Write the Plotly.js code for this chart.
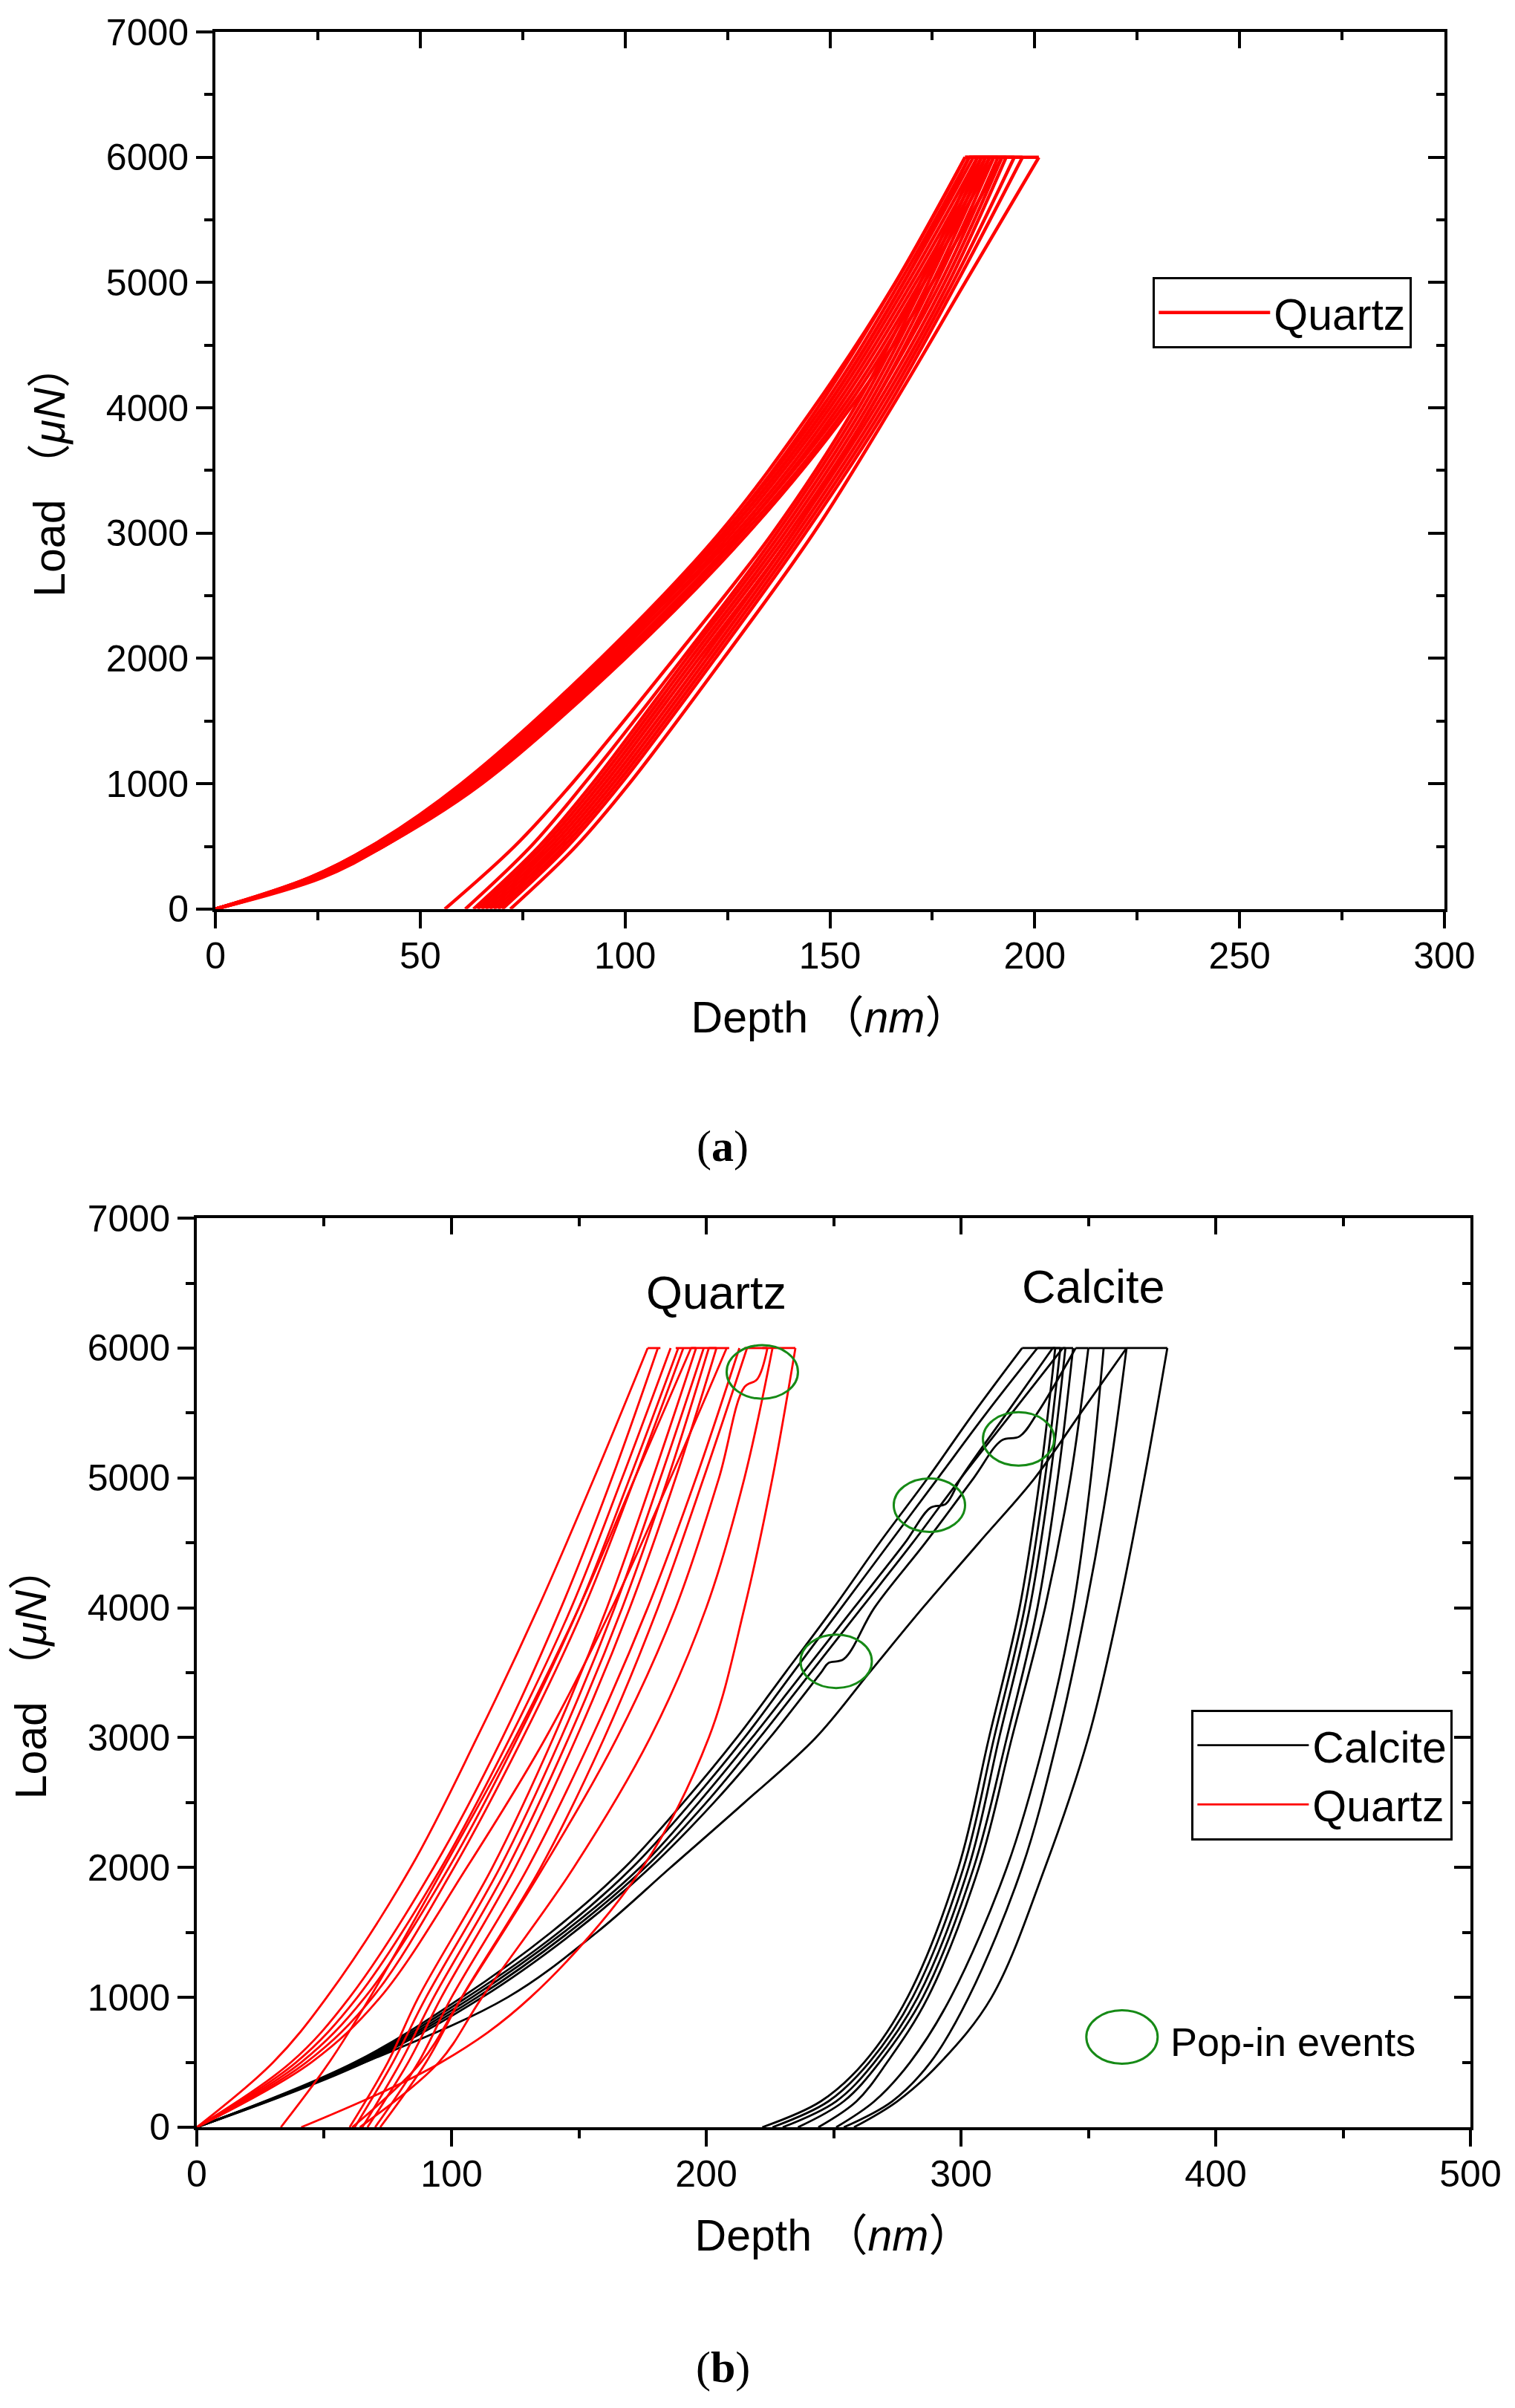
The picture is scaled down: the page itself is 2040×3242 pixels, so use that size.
<!DOCTYPE html>
<html>
<head>
<meta charset="utf-8">
<script src="https://cdn.plot.ly/plotly-3.0.1.min.js"></script>
<style>
  html, body { margin: 0; padding: 0; background: #fff; }
  #chart { width: 2040px; height: 3242px; }
</style>
</head>
<body>
<div id="chart"></div>
<script>
// ==========================================================
// DATA  (depth in nm at fixed load levels, load in uN)
// ==========================================================

// ---- (a) quartz, loading branch ----
const quartzUpLoadA = [0, 250, 500, 1000, 2000, 3000, 4000, 5000, 6000];
const quartzUpDepthA = [
    [0, 23, 38, 60, 94, 123, 146, 166, 183],
    [0, 23, 38, 61, 95, 124, 147, 166, 183],
    [0, 24, 39, 61, 95, 124, 148, 167, 184],
    [0, 24, 39, 62, 96, 125, 149, 168, 184],
    [0, 24, 39, 62, 96, 125, 149, 168, 185],
    [0, 24, 40, 62, 97, 126, 150, 169, 186],
    [0, 25, 40, 63, 97, 127, 151, 170, 187],
    [0, 25, 40, 63, 98, 128, 152, 171, 188],
    [0, 25, 41, 64, 99, 128, 153, 172, 189],
    [0, 25, 41, 64, 99, 129, 154, 173, 190],
    [0, 26, 41, 65, 100, 130, 155, 175, 192]
];

// ---- (a) quartz, unloading branch ----
const quartzDownLoadA = [6000, 5000, 4000, 3000, 2000, 1000, 500, 0];
const quartzDownDepthA = [
    [186, 172, 156, 136, 112, 87, 73, 56],
    [187, 173, 157, 137, 114, 90, 77, 61],
    [188, 174, 158, 138, 115, 92, 79, 63],
    [189, 175, 159, 139, 116, 93, 80, 64],
    [190, 176, 160, 140, 117, 94, 81, 65],
    [191, 177, 160, 141, 118, 95, 82, 66],
    [192, 178, 161, 141, 119, 96, 83, 67],
    [193, 179, 162, 142, 120, 97, 84, 68],
    [195, 180, 163, 143, 121, 98, 85, 69],
    [197, 181, 164, 144, 122, 99, 86, 70],
    [201, 183, 165, 146, 124, 101, 88, 72]
];

// ---- (b) quartz curves ----
const quartzLoadB = [0, 500, 1000, 2000, 3000, 4000, 5000, 6000];
const quartzDepthB = [
    [0, 30, 51, 84, 110, 134, 156, 177],
    [0, 37, 60, 93, 120, 143, 163, 181],
    [0, 39, 63, 96, 123, 147, 167, 186],
    [0, 41, 66, 99, 126, 150, 170, 189],
    [0, 43, 69, 101, 128, 152, 172, 191],
    [0, 45, 72, 106, 137, 163, 186, 208],
    [33, 52, 68, 97, 125, 150, 172, 194],
    [60, 75, 87, 116, 140, 161, 179, 196],
    [62, 77, 90, 119, 143, 164, 182, 199],
    [65, 80, 93, 122, 146, 167, 185, 201],
    [67, 83, 96, 125, 149, 170, 188, 204],
    [70, 87, 100, 130, 155, 177, 196, 213],
    [72, 90, 104, 135, 160, 181, 199, 216],
    [64, 95, 112, 148, 178, 200, 215, 226],
    [41, 96, 131, 175, 201, 215, 226, 235]
];
// quartz curve with the pop-in near the peak
const quartzPopLoadB = [0, 500, 1000, 2000, 3000, 4000, 5000, 5700, 5760, 6000];
const quartzPopDepthB = [61, 88, 104, 136, 165, 188, 205, 215, 220, 224];
const quartzHoldStartB = [177, 188, 194, 201, 215, 222];
const quartzHoldEndB = [182, 196, 204, 209, 224, 235];

// ---- (b) calcite loading ----
const calciteUpLoad = [0, 500, 1000, 1500, 2000, 2500, 3000, 3500, 4000, 4500, 5000, 5500, 6000];
const calciteUpDepth = [
    [0, 62, 104, 139, 168, 191, 212, 231, 250, 268, 287, 305, 324],
    [0, 63, 106, 142, 171, 194, 215, 234, 253, 272, 291, 310, 330],
    [0, 65, 110, 146, 176, 200, 221, 241, 261, 281, 300, 320, 340],
    [0, 66, 122, 157, 186, 215, 243, 264, 285, 307, 329, 347, 365]
];
// calcite loading curves carrying pop-in events
const calcitePopLoadA = [0, 500, 1000, 1500, 2000, 2500, 3000, 3500, 4000, 4500, 4770, 4800, 5000, 5500, 6000];
const calcitePopDepthA = [0, 64, 108, 144, 174, 197, 218, 238, 258, 278, 288, 294, 300, 318, 336];
const calcitePopLoadB = [0, 500, 1000, 1500, 2000, 2500, 3000, 3500, 3575, 3605, 4000, 4500, 5000, 5290, 5320, 5500, 6000];
const calcitePopDepthB = [0, 66, 112, 148, 178, 203, 225, 245, 248, 254, 266, 286, 305, 316, 323, 330, 345];

// ---- (b) calcite unloading ----
const calciteDownLoad = [6000, 5000, 4000, 3000, 2000, 1000, 500, 200, 0];
const calciteDownDepth = [
    [337, 331, 323, 311, 299, 279, 262, 245, 222],
    [339, 333, 325, 313, 301, 281, 264, 248, 226],
    [341, 335, 327, 315, 303, 283, 266, 251, 230],
    [344, 338, 330, 318, 305, 285, 268, 254, 236],
    [350, 343, 333, 320, 307, 287, 271, 259, 244],
    [356, 351, 344, 333, 318, 296, 280, 266, 251],
    [365, 358, 349, 338, 324, 303, 288, 273, 254],
    [381, 372, 362, 350, 333, 312, 292, 275, 258]
];
const calciteHoldStart = [324, 330, 336, 340, 345, 350, 356, 365];
const calciteHoldEnd = [337, 339, 341, 344, 350, 356, 365, 381];

// ---- pop-in markers (b) ----
const popInDepth = [222, 251, 287.6, 322.6];
const popInLoad = [5816, 3588, 4790, 5300];
const popKeyDepth = 363.2;
const popKeyLoad = 695;

const peakLoad = 6000;


// ==========================================================
// STYLE
// ==========================================================

const RED = "#ff0000";
const BLACK = "#000000";
const GREEN = "#168a16";
const SANS = "Liberation Sans, Arial, Noto Sans CJK SC, sans-serif";
const SERIF = "Liberation Serif, Times New Roman, serif";


function curve(xs, ys, color, width, xa, ya, legendId) {

    return {
        type: "scatter",
        mode: "lines",
        x: xs,
        y: ys,
        xaxis: xa,
        yaxis: ya,
        line: { color: color, width: width, shape: "spline", smoothing: 1 },
        showlegend: false,
        legend: legendId,
        hoverinfo: "skip"
    };

}


function holdTrace(starts, ends, color, width, xa, ya, legendId) {

    let xs = [];
    let ys = [];

    starts.forEach((s, i) => {
        xs.push(s, ends[i], null);
        ys.push(peakLoad, peakLoad, null);
    });

    return {
        type: "scatter",
        mode: "lines",
        x: xs,
        y: ys,
        xaxis: xa,
        yaxis: ya,
        connectgaps: false,
        line: { color: color, width: width },
        showlegend: false,
        legend: legendId,
        hoverinfo: "skip"
    };

}


// ==========================================================
// TRACES
// ==========================================================

let traces = [];

const wA = 4.5;
const wB = 2.8;

// (a)
quartzUpDepthA.forEach((d, i) => {
    let t = curve(d, quartzUpLoadA, RED, wA, "x", "y", "legend");
    if (i === 0) {
        t.showlegend = true;
        t.name = "Quartz";
    }
    traces.push(t);
});

quartzDownDepthA.forEach(d => {
    traces.push(curve(d, quartzDownLoadA, RED, wA, "x", "y", "legend"));
});

traces.push(holdTrace(
    quartzUpDepthA.map(d => d[d.length - 1]),
    quartzDownDepthA.map(d => d[0]),
    RED, wA, "x", "y", "legend"
));

// (b) calcite (drawn first, quartz sits on top)
calciteUpDepth.forEach((d, i) => {
    let t = curve(d, calciteUpLoad, BLACK, wB, "x2", "y2", "legend2");
    if (i === 0) {
        t.showlegend = true;
        t.name = "Calcite";
        t.legendrank = 1;
    }
    traces.push(t);
});
traces.push(curve(calcitePopDepthA, calcitePopLoadA, BLACK, wB, "x2", "y2", "legend2"));
traces.push(curve(calcitePopDepthB, calcitePopLoadB, BLACK, wB, "x2", "y2", "legend2"));

calciteDownDepth.forEach(d => {
    traces.push(curve(d, calciteDownLoad, BLACK, wB, "x2", "y2", "legend2"));
});
traces.push(holdTrace(calciteHoldStart, calciteHoldEnd, BLACK, wB, "x2", "y2", "legend2"));

// (b) quartz
quartzDepthB.forEach((d, i) => {
    let t = curve(d, quartzLoadB, RED, wB, "x2", "y2", "legend2");
    if (i === 0) {
        t.showlegend = true;
        t.name = "Quartz";
        t.legendrank = 2;
    }
    traces.push(t);
});
traces.push(curve(quartzPopDepthB, quartzPopLoadB, RED, wB, "x2", "y2", "legend2"));
traces.push(holdTrace(quartzHoldStartB, quartzHoldEndB, RED, wB, "x2", "y2", "legend2"));

// empty traces so the mirrored frame axes get drawn
traces.push({ type: "scatter", x: [], y: [], xaxis: "x3", yaxis: "y3", showlegend: false });
traces.push({ type: "scatter", x: [], y: [], xaxis: "x4", yaxis: "y4", showlegend: false });


// ==========================================================
// AXES
// ==========================================================

const tickFont = { family: SANS, size: 50, color: "#000" };
const titleFont = { family: SANS, size: 59, color: "#000" };


function frameAxis(range, dtick, minorDtick, domain, anchor, labelGap) {

    return {
        range: range,
        domain: domain,
        anchor: anchor,
        tickmode: "linear",
        tick0: 0,
        dtick: dtick,
        ticks: "outside",
        ticklen: 22,
        tickwidth: 4,
        tickcolor: "#000",
        minor: { dtick: minorDtick, ticks: "outside", ticklen: 11, tickwidth: 4, tickcolor: "#000" },
        showline: true,
        linewidth: 4,
        linecolor: "#000",
        showgrid: false,
        zeroline: false,
        tickfont: tickFont,
        ticklabelstandoff: labelGap,
        fixedrange: true
    };

}


function mirrorAxis(range, dtick, minorDtick, overlay, side, anchor) {

    return {
        range: range,
        overlaying: overlay,
        side: side,
        anchor: anchor,
        tickmode: "linear",
        tick0: 0,
        dtick: dtick,
        ticks: "inside",
        ticklen: 22,
        tickwidth: 4,
        tickcolor: "#000",
        minor: { dtick: minorDtick, ticks: "inside", ticklen: 11, tickwidth: 4, tickcolor: "#000" },
        showticklabels: false,
        showline: true,
        linewidth: 4,
        linecolor: "#000",
        showgrid: false,
        zeroline: false,
        fixedrange: true
    };

}


const depthTitle = { text: "Depth （<i>nm</i>）\u00a0\u00a0", font: titleFont, standoff: 36 };
const loadTitle = { text: "Load （<i>μN</i>）", font: titleFont, standoff: 37 };

const domXA = [0.1422, 0.9534];
const domYA = [0.6225, 0.9867];
const domXB = [0.1299, 0.9706];
const domYB = [0.1166, 0.4941];

let xA = frameAxis([0, 300], 50, 25, domXA, "y", -6);
xA.title = depthTitle;
let yA = frameAxis([0, 7000], 1000, 500, domYA, "x", 0);
yA.title = loadTitle;

let xB = frameAxis([0, 500], 100, 50, domXB, "y2", -6);
xB.title = depthTitle;
let yB = frameAxis([0, 7000], 1000, 500, domYB, "x2", 0);
yB.title = loadTitle;


// ==========================================================
// SHAPES / ANNOTATIONS
// ==========================================================

const popHalfW = 14;
const popHalfH = 206;

let shapes = popInDepth.map((d, i) => ({
    type: "circle",
    xref: "x2",
    yref: "y2",
    x0: d - popHalfW,
    x1: d + popHalfW,
    y0: popInLoad[i] - popHalfH,
    y1: popInLoad[i] + popHalfH,
    line: { color: GREEN, width: 3 }
}));

shapes.push({
    type: "circle",
    xref: "x2",
    yref: "y2",
    x0: popKeyDepth - popHalfW,
    x1: popKeyDepth + popHalfW,
    y0: popKeyLoad - popHalfH,
    y1: popKeyLoad + popHalfH,
    line: { color: GREEN, width: 3 }
});

const annotations = [
    {
        text: "(<b>a</b>)", xref: "paper", yref: "paper", x: 0.477, y: 0.524,
        xanchor: "center", yanchor: "middle",
        showarrow: false, font: { family: SERIF, size: 60, color: "#000" }
    },
    {
        text: "(<b>b</b>)", xref: "paper", yref: "paper", x: 0.477, y: 0.017,
        xanchor: "center", yanchor: "middle",
        showarrow: false, font: { family: SERIF, size: 60, color: "#000" }
    },
    {
        text: "Quartz", xref: "x2", yref: "y2", x: 204, y: 6430,
        xanchor: "center", yanchor: "middle",
        showarrow: false, font: { family: SANS, size: 63, color: "#000" }
    },
    {
        text: "Calcite", xref: "x2", yref: "y2", x: 352, y: 6475,
        xanchor: "center", yanchor: "middle",
        showarrow: false, font: { family: SANS, size: 63, color: "#000" }
    },
    {
        text: "Pop-in events", xref: "x2", yref: "y2", x: 381.7, y: 655,
        xanchor: "left", yanchor: "middle",
        showarrow: false, font: { family: SANS, size: 54, color: "#000" }
    }
];


// ==========================================================
// LAYOUT
// ==========================================================

const legendBase = {
    bgcolor: "#fff",
    bordercolor: "#000",
    borderwidth: 3,
    font: { family: SANS, size: 59, color: "#000" },
    itemwidth: 150,
    tracegroupgap: 0,
    traceorder: "normal",
    xanchor: "right",
    yanchor: "top"
};

const layout = {
    width: 2040,
    height: 3242,
    margin: { l: 0, r: 0, t: 0, b: 0 },
    paper_bgcolor: "#fff",
    plot_bgcolor: "rgba(0,0,0,0)",
    font: { family: SANS, color: "#000" },
    showlegend: true,
    xaxis: xA,
    yaxis: yA,
    xaxis3: mirrorAxis([0, 300], 50, 25, "x", "top", "y"),
    yaxis3: mirrorAxis([0, 7000], 1000, 500, "y", "right", "x"),
    xaxis2: xB,
    yaxis2: yB,
    xaxis4: mirrorAxis([0, 500], 100, 50, "x2", "top", "y2"),
    yaxis4: mirrorAxis([0, 7000], 1000, 500, "y2", "right", "x2"),
    legend: Object.assign({}, legendBase, { x: 0.932, y: 0.8850 }),
    legend2: Object.assign({}, legendBase, { x: 0.959, y: 0.2900 }),
    shapes: shapes,
    annotations: annotations
};

Plotly.newPlot("chart", traces, layout, { displayModeBar: false, staticPlot: true });
</script>
</body>
</html>
